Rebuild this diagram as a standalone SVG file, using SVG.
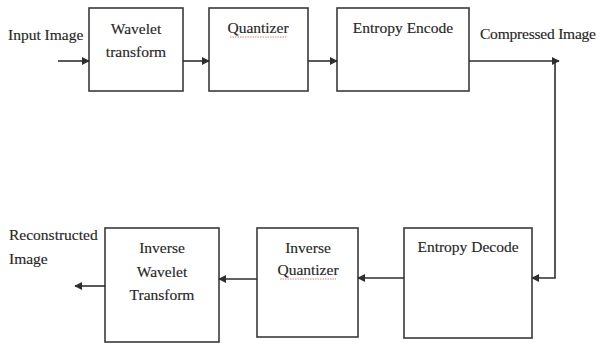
<svg xmlns="http://www.w3.org/2000/svg" width="600" height="345" viewBox="0 0 600 345">
<defs>
<style>
.box{fill:#fff;stroke:#3a3a3a;stroke-width:1.6}
.t{font-family:'Liberation Serif','DejaVu Serif',serif;font-size:15.5px;fill:#262626;stroke:#262626;stroke-width:0.15}
.c{text-anchor:middle}
.ln{fill:none;stroke:#2e2e2e;stroke-width:1.6}
.sq{fill:none;stroke:#d06060;stroke-width:0.8;stroke-dasharray:1.5 1}
</style>
<marker id="ah" viewBox="0 0 10 10" refX="9" refY="5" markerWidth="8" markerHeight="8" markerUnits="userSpaceOnUse" orient="auto">
<path d="M0,0 L10,5 L0,10 z" fill="#2e2e2e"/>
</marker>
</defs>
<rect width="600" height="345" fill="#fff"/>
<text class="t" x="8" y="40">Input Image</text>
<text class="t" x="480" y="39" font-size="14.5" textLength="116" lengthAdjust="spacing">Compressed Image</text>
<text class="t" x="9" y="240">Reconstructed</text>
<text class="t" x="9" y="264">Image</text>
<g id="wavelet">
<rect class="box" x="89" y="8" width="94" height="83"/>
<text class="t c" x="136" y="34">Wavelet</text>
<text class="t c" x="136" y="57">transform</text>
</g>
<g id="quantizer">
<rect class="box" x="209" y="8" width="99" height="83"/>
<text class="t c" x="258" y="33">Quantizer</text>
<path class="sq" d="M230,37 H287"/>
</g>
<g id="entropy-encode">
<rect class="box" x="337" y="8" width="132" height="83"/>
<text class="t c" x="403" y="33">Entropy Encode</text>
</g>
<g id="entropy-decode">
<rect class="box" x="404" y="228" width="128" height="110"/>
<text class="t c" x="468" y="252">Entropy Decode</text>
</g>
<g id="inverse-quantizer">
<rect class="box" x="257" y="228" width="101" height="109"/>
<text class="t c" x="308" y="253">Inverse</text>
<text class="t c" x="308" y="275">Quantizer</text>
<path class="sq" d="M280,279 H336"/>
</g>
<g id="inverse-wavelet">
<rect class="box" x="105" y="228" width="114" height="114"/>
<text class="t c" x="162" y="253">Inverse</text>
<text class="t c" x="162" y="277">Wavelet</text>
<text class="t c" x="162" y="300">Transform</text>
</g>
<g id="connectors">
<path class="ln" d="M58,61 H89" marker-end="url(#ah)"/>
<path class="ln" d="M183,61 H209" marker-end="url(#ah)"/>
<path class="ln" d="M308,61 H337" marker-end="url(#ah)"/>
<path class="ln" d="M469,61 H559" marker-end="url(#ah)"/>
<path class="ln" d="M555,61 V278 H532" marker-end="url(#ah)"/>
<path class="ln" d="M404,278 H358" marker-end="url(#ah)"/>
<path class="ln" d="M257,279 H219" marker-end="url(#ah)"/>
<path class="ln" d="M105,286 H75" marker-end="url(#ah)"/>
</g>
</svg>
